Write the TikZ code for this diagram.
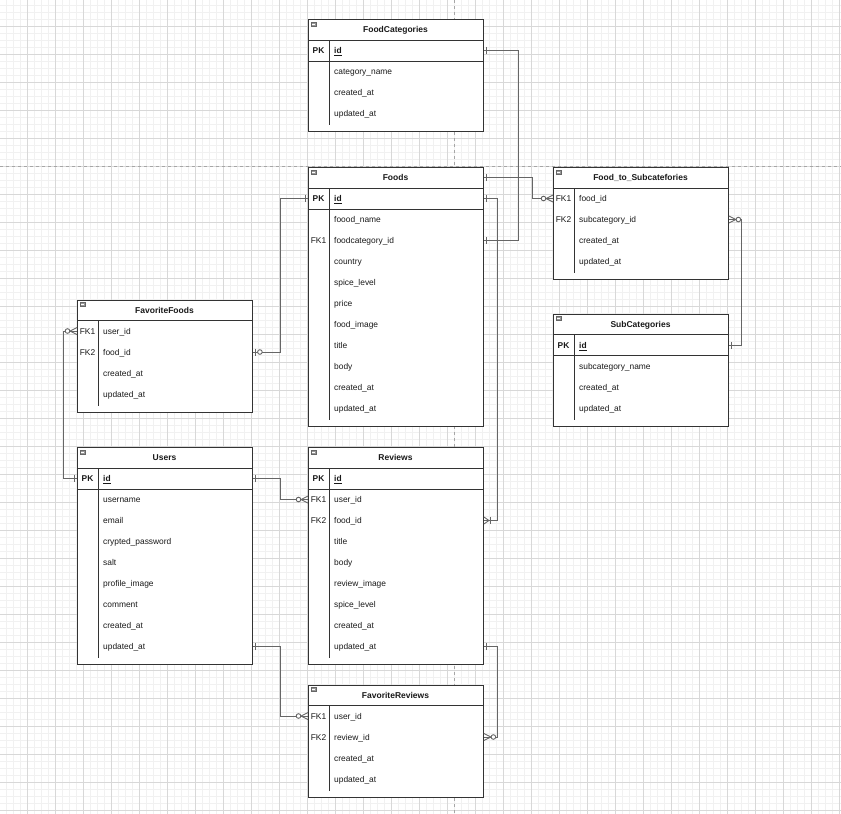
\documentclass[tikz,border=0pt]{standalone}
\usepackage{fontspec}
\setmainfont{Liberation Sans}
\usepackage{xcolor}
\usepackage{tikz}
\usetikzlibrary{decorations.markings}
\definecolor{tblc}{HTML}{333333}
\definecolor{relc}{HTML}{666666}
\definecolor{gridmaj}{HTML}{D8D8D8}
\definecolor{gridmin}{HTML}{F1F1F1}
\newcommand{\tblicon}{\draw[icon] (3,3) rectangle ++(5,4); \draw[iconbar] (4,5) -- (7,5);}

\begin{document}
\begin{tikzpicture}[x=1pt, y=-1pt,
  every node/.style={font=\fontsize{8.4}{10}\selectfont, inner sep=0pt, text=black!90,
    text height=7.6pt, text depth=1pt},
  tbl/.style={draw=tblc, line width=0.9pt, fill=white, anchor=north west, minimum width=175},
  ttl/.style={font=\fontsize{8.5}{10}\selectfont\bfseries},
  keyb/.style={font=\fontsize{8.4}{10}\selectfont\bfseries},
  keyc/.style={},
  field/.style={anchor=west},
  fieldb/.style={anchor=west, font=\fontsize{8.4}{10}\selectfont\bfseries},
  rowline/.style={draw=tblc, line width=0.9pt},
  icon/.style={draw=black!60, fill=black!40, line width=0.4pt},
  iconbar/.style={draw=white, line width=0.6pt},
  rel/.style={draw=relc, line width=0.9pt},
  bar start/.style={postaction={decorate, decoration={markings,
      mark=at position 2.5pt with {\draw[rel] (0pt,-3.5pt) -- (0pt,3.5pt);}}}},
  bar end/.style={postaction={decorate, decoration={markings,
      mark=at position -2.5pt with {\draw[rel] (0pt,-3.5pt) -- (0pt,3.5pt);}}}},
  zmany end/.style={postaction={decorate, decoration={markings,
      mark=at position -7pt with {\draw[rel] (7pt,3.5pt) -- (0pt,0pt) -- (7pt,-3.5pt);
        \draw[rel, fill=white] (-2.5pt,0pt) circle (2.3pt);}}}},
  zone end/.style={postaction={decorate, decoration={markings,
      mark=at position -2.5pt with {\draw[rel] (0pt,-3.5pt) -- (0pt,3.5pt);
        \draw[rel, fill=white] (-4.5pt,0pt) circle (2.3pt);}}}},
  mone end/.style={postaction={decorate, decoration={markings,
      mark=at position -7pt with {\draw[rel] (0pt,-3.5pt) -- (0pt,3.5pt);
        \draw[rel] (7pt,3.5pt) -- (2pt,0pt) -- (7pt,-3.5pt);}}}},
  pagebrk/.style={draw=black!35, line width=0.7pt, dash pattern=on 3pt off 3pt}]

  \useasboundingbox (0,0) rectangle (841,814);
  \fill[white] (0,0) rectangle (841,814);
  % ---- background grid ----
  \foreach \i in {0,...,121} \draw[gridmin, line width=0.5pt] ({7*\i-0.7},0) -- ({7*\i-0.7},814);
  \foreach \i in {0,...,117} \draw[gridmin, line width=0.5pt] (0,{7*\i-2}) -- (841,{7*\i-2});
  \foreach \i in {0,...,30} \draw[gridmaj, line width=0.6pt] ({28*\i+27.3},0) -- ({28*\i+27.3},814);
  \foreach \i in {0,...,29} \draw[gridmaj, line width=0.6pt] (0,{28*\i+26}) -- (841,{28*\i+26});
  \draw[pagebrk] (454.5,0) -- (454.5,814);
  \draw[pagebrk] (0,166) -- (841,166);

  % ---- FoodCategories ----
  \begin{scope}[shift={(308,19)}]
    \node[tbl, minimum height=112] (fc) at (0,0) {};
    \tblicon
    \node[ttl] (fc-t) at (87.5,10.5) {FoodCategories};
    \draw[rowline] (0,21) -- (175,21) (0,42) -- (175,42) (21,21) -- (21,106);
    \node[keyb] (fc-pk) at (10.5,31.5) {PK};
    \node[fieldb] (fc-id) at (26,31.5) {\underline{id}};
    \foreach \f [count=\i] in {category\_name, created\_at, updated\_at}
      \node[field] (fc-\i) at (26,{31.5+21*\i}) {\f};
  \end{scope}

  % ---- Foods ----
  \begin{scope}[shift={(308,167)}]
    \node[tbl, minimum height=259] (foods) at (0,0) {};
    \tblicon
    \node[ttl] (foods-t) at (87.5,10.5) {Foods};
    \draw[rowline] (0,21) -- (175,21) (0,42) -- (175,42) (21,21) -- (21,253);
    \node[keyb] (foods-pk) at (10.5,31.5) {PK};
    \node[fieldb] (foods-id) at (26,31.5) {\underline{id}};
    \foreach \f [count=\i] in {foood\_name, foodcategory\_id, country, spice\_level, price,
        food\_image, title, body, created\_at, updated\_at}
      \node[field] (foods-\i) at (26,{31.5+21*\i}) {\f};
    \node[keyc] (foods-fk1) at (10.5,73.5) {FK1};
  \end{scope}

  % ---- Food_to_Subcatefories ----
  \begin{scope}[shift={(553,167)}]
    \node[tbl, minimum height=112] (fts) at (0,0) {};
    \tblicon
    \node[ttl] (fts-t) at (87.5,10.5) {Food\_to\_Subcatefories};
    \draw[rowline] (0,21) -- (175,21) (21,21) -- (21,106);
    \foreach \f [count=\i] in {food\_id, subcategory\_id, created\_at, updated\_at}
      \node[field] (fts-\i) at (26,{10.5+21*\i}) {\f};
    \node[keyc] (fts-fk1) at (10.5,31.5) {FK1};
    \node[keyc] (fts-fk2) at (10.5,52.5) {FK2};
  \end{scope}

  % ---- FavoriteFoods ----
  \begin{scope}[shift={(77,299.5)}]
    \node[tbl, minimum height=112] (ff) at (0,0) {};
    \tblicon
    \node[ttl] (ff-t) at (87.5,10.5) {FavoriteFoods};
    \draw[rowline] (0,21) -- (175,21) (21,21) -- (21,106);
    \foreach \f [count=\i] in {user\_id, food\_id, created\_at, updated\_at}
      \node[field] (ff-\i) at (26,{10.5+21*\i}) {\f};
    \node[keyc] (ff-fk1) at (10.5,31.5) {FK1};
    \node[keyc] (ff-fk2) at (10.5,52.5) {FK2};
  \end{scope}

  % ---- SubCategories ----
  \begin{scope}[shift={(553,313.5)}]
    \node[tbl, minimum height=112] (sc) at (0,0) {};
    \tblicon
    \node[ttl] (sc-t) at (87.5,10.5) {SubCategories};
    \draw[rowline] (0,21) -- (175,21) (0,42) -- (175,42) (21,21) -- (21,106);
    \node[keyb] (sc-pk) at (10.5,31.5) {PK};
    \node[fieldb] (sc-id) at (26,31.5) {\underline{id}};
    \foreach \f [count=\i] in {subcategory\_name, created\_at, updated\_at}
      \node[field] (sc-\i) at (26,{31.5+21*\i}) {\f};
  \end{scope}

  % ---- Users ----
  \begin{scope}[shift={(77,447)}]
    \node[tbl, minimum height=217] (users) at (0,0) {};
    \tblicon
    \node[ttl] (users-t) at (87.5,10.5) {Users};
    \draw[rowline] (0,21) -- (175,21) (0,42) -- (175,42) (21,21) -- (21,211);
    \node[keyb] (users-pk) at (10.5,31.5) {PK};
    \node[fieldb] (users-id) at (26,31.5) {\underline{id}};
    \foreach \f [count=\i] in {username, email, crypted\_password, salt, profile\_image,
        comment, created\_at, updated\_at}
      \node[field] (users-\i) at (26,{31.5+21*\i}) {\f};
  \end{scope}

  % ---- Reviews ----
  \begin{scope}[shift={(308,447)}]
    \node[tbl, minimum height=217] (reviews) at (0,0) {};
    \tblicon
    \node[ttl] (reviews-t) at (87.5,10.5) {Reviews};
    \draw[rowline] (0,21) -- (175,21) (0,42) -- (175,42) (21,21) -- (21,211);
    \node[keyb] (reviews-pk) at (10.5,31.5) {PK};
    \node[fieldb] (reviews-id) at (26,31.5) {\underline{id}};
    \foreach \f [count=\i] in {user\_id, food\_id, title, body, review\_image,
        spice\_level, created\_at, updated\_at}
      \node[field] (reviews-\i) at (26,{31.5+21*\i}) {\f};
    \node[keyc] (reviews-fk1) at (10.5,52.5) {FK1};
    \node[keyc] (reviews-fk2) at (10.5,73.5) {FK2};
  \end{scope}

  % ---- FavoriteReviews ----
  \begin{scope}[shift={(308,684.5)}]
    \node[tbl, minimum height=112] (fr) at (0,0) {};
    \tblicon
    \node[ttl] (fr-t) at (87.5,10.5) {FavoriteReviews};
    \draw[rowline] (0,21) -- (175,21) (21,21) -- (21,106);
    \foreach \f [count=\i] in {user\_id, review\_id, created\_at, updated\_at}
      \node[field] (fr-\i) at (26,{10.5+21*\i}) {\f};
    \node[keyc] (fr-fk1) at (10.5,31.5) {FK1};
    \node[keyc] (fr-fk2) at (10.5,52.5) {FK2};
  \end{scope}

  % ---- relations ----
  \draw[rel, bar start, bar end] (fc.east |- fc-id) -- ++(35,0) |- (foods.east |- foods-2);
  \draw[rel, bar start, zmany end] (foods.east |- foods-t) -- ++(49,0) |- (fts.west |- fts-1);
  \draw[rel, bar start, mone end] (foods.east |- foods-id) -- ++(14,0) |- (reviews.east |- reviews-2);
  \draw[rel, bar start, zmany end] (sc.east |- sc-id) -- ++(13,0) |- (fts.east |- fts-2);
  \draw[rel, bar start, zone end] (foods.west |- foods-id) -- ++(-28,0) |- (ff.east |- ff-2);
  \draw[rel, bar start, zmany end] (users.west |- users-id) -- ++(-14,0) |- (ff.west |- ff-1);
  \draw[rel, bar start, zmany end] (users.east |- users-id) -- ++(28,0) |- (reviews.west |- reviews-1);
  \draw[rel, bar start, zmany end] (users.east |- users-8) -- ++(28,0) |- (fr.west |- fr-1);
  \draw[rel, bar start, zmany end] (reviews.east |- reviews-8) -- ++(14,0) |- (fr.east |- fr-2);
\end{tikzpicture}
\end{document}
